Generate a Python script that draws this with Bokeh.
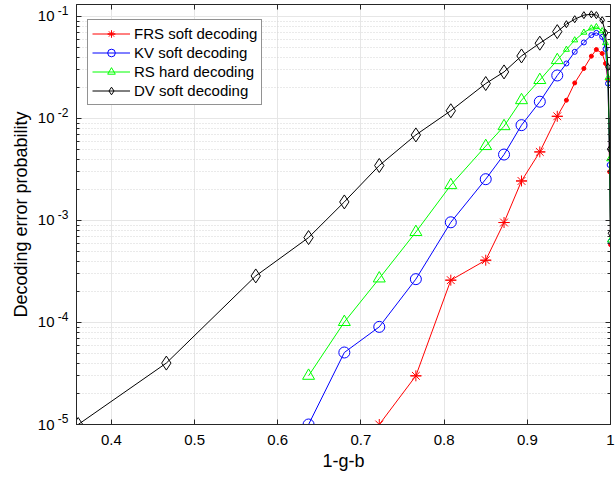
from bokeh.embed import file_html
from bokeh.models import (FixedTicker, Legend, LegendItem, LinearAxis,
                          LogAxis, NumeralTickFormatter, Range1d)
from bokeh.plotting import figure
from bokeh.resources import INLINE

# ---- data -----------------------------------------------------------------
# coarse grid (large markers) and fine grid near the peak (small markers)
x_coarse = [0.360, 0.466, 0.5735, 0.637, 0.680, 0.722, 0.766, 0.808, 0.850,
            0.872, 0.893, 0.915, 0.936]
x_fine = [0.947, 0.957, 0.968, 0.977, 0.983, 0.990, 0.994, 0.997, 0.999, 1.000]

# FRS soft decoding (starts at x = 0.722)
frs_coarse = [1.0e-5, 3.0e-5, 2.6e-4, 4.08e-4, 9.55e-4, 2.44e-3, 4.7e-3, 1.05e-2]
frs_fine = [1.51e-2, 2.23e-2, 3.09e-2, 4.08e-2, 4.74e-2, 4.34e-2, 3.46e-2,
            2.38e-2, 3.0e-3, 5.8e-4]

# KV soft decoding (starts at x = 0.637)
kv_coarse = [1.0e-5, 5.08e-5, 9.06e-5, 2.66e-4, 9.6e-4, 2.54e-3, 4.43e-3,
             8.6e-3, 1.46e-2, 2.64e-2]
kv_fine = [3.46e-2, 4.5e-2, 5.56e-2, 6.56e-2, 6.9e-2, 6.3e-2, 4.8e-2, 2.2e-2,
           3.5e-3, 6.2e-4]

# RS hard decoding (starts at x = 0.637)
rs_coarse = [3.0e-5, 1.01e-4, 2.7e-4, 7.7e-4, 2.22e-3, 5.36e-3, 8.4e-3,
             1.51e-2, 2.38e-2, 3.73e-2]
rs_fine = [4.74e-2, 5.86e-2, 6.97e-2, 7.67e-2, 7.9e-2, 7.2e-2, 5.5e-2, 2.5e-2,
           4.0e-3, 6.4e-4]

# DV soft decoding (full grid)
dv_coarse = [1.0e-5, 4.0e-5, 2.86e-4, 6.8e-4, 1.52e-3, 3.46e-3, 6.9e-3,
             1.19e-2, 2.2e-2, 2.86e-2, 4.1e-2, 5.47e-2, 7.1e-2]
dv_fine = [8.4e-2, 9.4e-2, 1.03e-1, 1.05e-1, 1.03e-1, 9.2e-2, 6.9e-2, 3.2e-2,
           5.0e-3, 7.5e-4]

labels = ["FRS soft decoding", "KV soft decoding", "RS hard decoding",
          "DV soft decoding"]

x_ticks = [0.4, 0.5, 0.6, 0.7, 0.8, 0.9, 1.0]
y_exponents = [-5, -4, -3, -2, -1]

X_LO, X_HI = 0.358, 1.0
Y_LO, Y_HI = 1e-5, 0.131

FONT = "Liberation Sans"
AX = "#262626"
PX_PER_DECADE = 102.0

# ---- figure ---------------------------------------------------------------
p = figure(width=616, height=480, x_range=Range1d(X_LO, X_HI),
           y_range=Range1d(Y_LO, Y_HI), y_axis_type="log",
           output_backend="svg", toolbar_location=None,
           min_border_left=76, min_border_right=6, min_border_top=4,
           min_border_bottom=56, background_fill_color="white",
           border_fill_color="white", outline_line_color=AX,
           outline_line_width=1)

y_major = [10.0 ** e for e in y_exponents]
y_minor = [m * 10.0 ** e for e in y_exponents for m in range(2, 10)]
x_ticker = FixedTicker(ticks=x_ticks)
y_ticker = FixedTicker(ticks=y_major, minor_ticks=y_minor)

# grid
p.xgrid.ticker = x_ticker
p.xgrid.grid_line_color = "#e6e6e6"
p.ygrid.ticker = y_ticker
p.ygrid.grid_line_color = "#e6e6e6"
p.ygrid.minor_grid_line_color = "#d4d4d4"
p.ygrid.minor_grid_line_dash = "1 2"


def style_axis(ax):
    ax.axis_line_color = AX
    ax.major_tick_line_color = AX
    ax.minor_tick_line_color = AX
    ax.major_tick_in = 5
    ax.major_tick_out = 0
    ax.minor_tick_in = 3
    ax.minor_tick_out = 0


def hide_labels(ax):
    ax.major_label_text_font_size = "1px"
    ax.major_label_text_alpha = 0
    ax.major_label_standoff = 0


def label_only(ax):
    ax.axis_line_color = None
    ax.major_tick_line_color = None
    ax.minor_tick_line_color = None
    ax.major_tick_in = 0
    ax.major_tick_out = 0
    ax.minor_tick_in = 0
    ax.minor_tick_out = 0
    ax.major_label_text_font = FONT
    ax.major_label_text_color = "black"


# bottom axis
xa = p.xaxis[0]
xa.ticker = x_ticker
xa.formatter = NumeralTickFormatter(format="0.[0]")
style_axis(xa)
xa.major_label_text_font = FONT
xa.major_label_text_font_size = "15px"
xa.major_label_text_color = "black"
xa.major_label_standoff = 10
xa.axis_label = "1-g-b"
xa.axis_label_text_font = FONT
xa.axis_label_text_font_size = "18px"
xa.axis_label_text_font_style = "normal"
xa.axis_label_text_color = "black"
xa.axis_label_standoff = 3

# left axis carries the ticks only
ya = p.yaxis[0]
ya.ticker = y_ticker
style_axis(ya)
hide_labels(ya)

# decade labels: "10" on the decade, exponent raised beside it
exp_pos = [10.0 ** (e + 6.0 / PX_PER_DECADE) for e in y_exponents]

exp_axis = LogAxis(ticker=FixedTicker(ticks=exp_pos),
                   major_label_overrides={v: str(e) for v, e in
                                          zip(exp_pos, y_exponents)})
label_only(exp_axis)
exp_axis.major_label_text_font_size = "12px"
exp_axis.major_label_standoff = 8
p.add_layout(exp_axis, "left")

ten_axis = LogAxis(ticker=FixedTicker(ticks=y_major),
                   major_label_overrides={v: "10" for v in y_major})
label_only(ten_axis)
ten_axis.major_label_text_font_size = "15px"
ten_axis.major_label_standoff = 0
ten_axis.axis_label = "Decoding error probability"
ten_axis.axis_label_text_font = FONT
ten_axis.axis_label_text_font_size = "18px"
ten_axis.axis_label_text_font_style = "normal"
ten_axis.axis_label_text_color = "black"
ten_axis.axis_label_standoff = 4
p.add_layout(ten_axis, "left")

# box ticks on top and right
top = LinearAxis(ticker=x_ticker)
style_axis(top)
hide_labels(top)
p.add_layout(top, "above")
right = LogAxis(ticker=y_ticker)
style_axis(right)
hide_labels(right)
p.add_layout(right, "right")

# ---- series ---------------------------------------------------------------
series = [
    ("#ff0000", frs_coarse, frs_fine, "asterisk"),
    ("#0000ff", kv_coarse, kv_fine, "circle"),
    ("#00ff00", rs_coarse, rs_fine, "triangle"),
    ("#000000", dv_coarse, dv_fine, "diamond"),
]

legend_items = []
for (color, yc, yf, kind), name in zip(series, labels):
    xc = x_coarse[len(x_coarse) - len(yc):]
    line = p.line(xc + x_fine, yc + yf, line_color=color, line_width=1)
    rends = [line]
    common = dict(line_color=color, fill_color=None, line_width=1)
    if kind == "asterisk":
        rends.append(p.scatter(xc, yc, marker="asterisk", size=11, **common))
        rends.append(p.scatter(xc, yc, marker="dash", size=11, **common))
        p.scatter(x_fine, yf, marker="circle", size=4, line_color=color,
                  fill_color=color)
    elif kind == "circle":
        rends.append(p.scatter(xc, yc, marker="circle", size=11, **common))
        p.scatter(x_fine, yf, marker="circle", size=5, **common)
    elif kind == "triangle":
        rends.append(p.scatter(xc, yc, marker="triangle", size=12, **common))
        p.scatter(x_fine, yf, marker="triangle", size=6, **common)
    else:
        rends.append(p.scatter(xc, yc, marker="diamond", size=14, **common))
        p.scatter(x_fine, yf, marker="diamond", size=7, **common)
    legend_items.append(LegendItem(label=name, renderers=rends))

legend = Legend(items=legend_items, location=(11, 319), margin=0,
                padding=4, spacing=0, glyph_width=38, glyph_height=19,
                label_standoff=4, label_height=19,
                label_text_font=FONT, label_text_font_size="15px",
                label_text_color="black", border_line_color=AX,
                border_line_width=1, background_fill_color="white",
                background_fill_alpha=1.0)
p.add_layout(legend, "center")

open("out.html", "w").write(file_html(p, INLINE))
